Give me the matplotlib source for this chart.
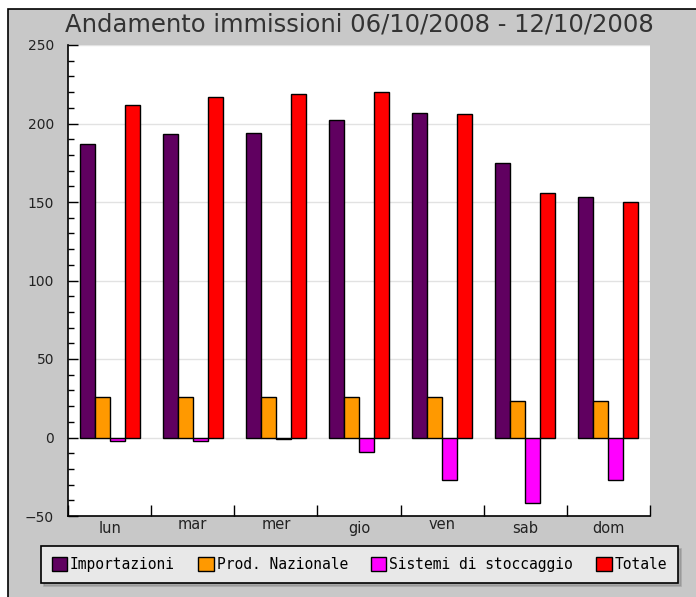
import matplotlib.pyplot as plt
import numpy as np
from matplotlib.patches import Rectangle, Patch
from matplotlib.ticker import MultipleLocator, FixedLocator, NullFormatter
import matplotlib.transforms as mtransforms

days = ['lun', 'mar', 'mer', 'gio', 'ven', 'sab', 'dom']
importazioni = [187, 193, 194, 202, 207, 175, 153]
prod_nazionale = [26, 26, 26, 26, 26, 23, 23]
stoccaggio = [-2, -2, -1, -9, -27, -42, -27]
totale = [212, 217, 219, 220, 206, 156, 150]

series = [importazioni, prod_nazionale, stoccaggio, totale]
names = ['Importazioni', 'Prod. Nazionale', 'Sistemi di stoccaggio', 'Totale']
colors = ['#600060', '#ff9900', '#ff00ff', '#ff0000']

W, H = 696, 597
fig = plt.figure(figsize=(W / 100, H / 100), dpi=100)
fig.patch.set_facecolor('white')

# gray panel with black border on top/left
fig.patches.append(Rectangle((8 / W, -0.1), 1.2, 1 - 9 / H + 0.1, transform=fig.transFigure,
                             facecolor='#c8c8c8', edgecolor='black', linewidth=1.2, zorder=-10))

ax = fig.add_axes([68 / W, 1 - 516 / H, (650 - 68) / W, (516 - 45) / H])
ax.set_facecolor('white')

x = np.arange(len(days))
w = 0.18
for k, (vals, c) in enumerate(zip(series, colors)):
    ax.bar(x + (k - 1.5) * w, vals, w, color=c, edgecolor='black', linewidth=1, zorder=3)

ax.set_xlim(-0.5, len(days) - 0.5)
ax.set_ylim(-50, 250)
ax.yaxis.set_major_locator(MultipleLocator(50))
ax.yaxis.set_minor_locator(MultipleLocator(10))
ax.tick_params(axis='y', which='major', direction='in', length=7, width=1, labelsize=10,
               pad=10, labelcolor='#222222')
ax.tick_params(axis='y', which='minor', direction='in', length=4, width=1)
ax.grid(axis='y', which='major', color='#e2e2e2', linewidth=1, zorder=0)

ax.xaxis.set_major_locator(FixedLocator(np.arange(len(days) + 1) - 0.5))
ax.xaxis.set_major_formatter(NullFormatter())
ax.tick_params(axis='x', which='major', direction='in', length=8, width=1)

# day labels, top-aligned on ink like the original
trans = mtransforms.blended_transform_factory(ax.transData, ax.transAxes)
for i, d in enumerate(days):
    tall = any(ch in 'bdfhiklt' for ch in d)
    off = 0 if tall else 4
    t = trans + mtransforms.ScaledTranslation(0, (-5 + off) / 100, fig.dpi_scale_trans)
    ax.text(i, 0, d, transform=t, ha='center', va='top', fontsize=10.5, color='#222222')

for s in ['top', 'right']:
    ax.spines[s].set_visible(False)
for s in ['left', 'bottom']:
    ax.spines[s].set_linewidth(1.2)

fig.text(359 / W, 1 - 25 / H, 'Andamento immissioni 06/10/2008 - 12/10/2008',
         ha='center', va='center', fontsize=17.5, color='#333333')

handles = [Patch(facecolor=c, edgecolor='black', linewidth=1) for c in colors]
leg = fig.legend(handles, names, ncol=4, loc='center', bbox_to_anchor=(359.5 / W, 1 - 564.5 / H),
                 prop={'family': 'DejaVu Sans Mono', 'size': 10.5}, frameon=True, fancybox=False,
                 shadow={'color': '#888888'}, handlelength=1.05, handleheight=1.05, handletextpad=0.2,
                 columnspacing=1.6, borderpad=0.75, borderaxespad=0)
leg.get_frame().set_facecolor('#e8e8e8')
leg.get_frame().set_edgecolor('black')
leg.get_frame().set_linewidth(1.2)
leg.get_frame().set_alpha(1)

fig.savefig('out.png', dpi=100)
